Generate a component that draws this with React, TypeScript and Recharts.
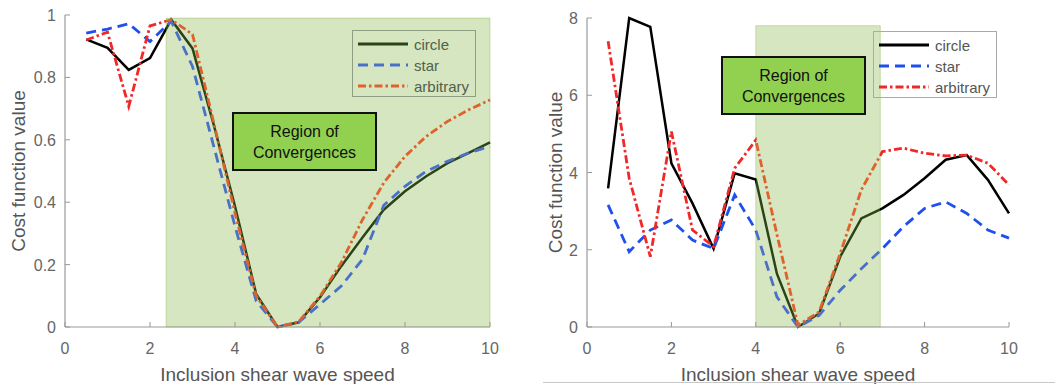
import { LineChart, Line, XAxis, YAxis, ReferenceArea, Label } from 'recharts';

// inclusion shear wave speeds sampled in both panels
const speeds = [0.5, 1, 1.5, 2, 2.5, 3, 3.5, 4, 4.5, 5, 5.5, 6, 6.5, 7, 7.5, 8, 8.5, 9, 9.5, 10];

// left panel
const leftCircle = [0.922, 0.895, 0.824, 0.862, 0.985, 0.893, 0.648, 0.387, 0.105, 0.0, 0.015, 0.095, 0.195, 0.287, 0.376, 0.435, 0.483, 0.525, 0.558, 0.592];
const leftStar = [0.942, 0.955, 0.972, 0.915, 0.98, 0.835, 0.579, 0.323, 0.083, 0.0, 0.015, 0.073, 0.131, 0.217, 0.39, 0.451, 0.499, 0.531, 0.558, 0.579];
const leftArbitrary = [0.92, 0.945, 0.707, 0.965, 0.985, 0.938, 0.655, 0.366, 0.099, 0.0, 0.017, 0.099, 0.206, 0.344, 0.462, 0.547, 0.611, 0.659, 0.696, 0.728];

// right panel
const rightCircle = [3.59, 8.0, 7.77, 4.24, 3.2, 2.03, 3.98, 3.82, 1.38, 0.0, 0.35, 1.82, 2.81, 3.07, 3.42, 3.85, 4.33, 4.45, 3.81, 2.94];
const rightStar = [3.16, 1.95, 2.51, 2.77, 2.25, 2.03, 3.42, 2.51, 0.78, 0.0, 0.3, 0.95, 1.51, 2.03, 2.6, 3.07, 3.24, 2.94, 2.51, 2.3];
const rightArbitrary = [7.4, 3.85, 1.82, 5.06, 2.51, 2.08, 4.11, 4.84, 2.4, 0.05, 0.39, 1.9, 3.55, 4.54, 4.63, 4.5, 4.43, 4.45, 4.24, 3.68];

const xTicks = [0, 2, 4, 6, 8, 10];
const leftYTicks = [0, 0.2, 0.4, 0.6, 0.8, 1];
const rightYTicks = [0, 2, 4, 6, 8];
const leftRegion = [2.38, 10];
const rightRegion = [4, 6.95];
const leftRegionTop = 0.99;
const rightRegionTop = 7.8;

const seriesNames = ['circle', 'star', 'arbitrary'];
const regionText = ['Region of', 'Convergences'];
const xLabel = 'Inclusion shear wave speed';
const yLabel = 'Cost function value';

const FONT = 'Arial, "Liberation Sans", Helvetica, sans-serif';
const DASH_STAR = '10 6';
const DASH_ARB = '8 3 2.5 3';
// plain colours, and the same colours seen through the green band
const baseColors = ['#000000', '#1e50f0', '#f02828'];
const tintColors = ['#2a4418', '#4a70c8', '#de622c'];
const dashes = [undefined, DASH_STAR, DASH_ARB];

const leftData = speeds.map((x, i) => ({ x, circle: leftCircle[i], star: leftStar[i], arbitrary: leftArbitrary[i] }));
const rightData = speeds.map((x, i) => ({ x, circle: rightCircle[i], star: rightStar[i], arbitrary: rightArbitrary[i] }));

function YTick(props: any) {
    const { x, y, payload } = props;
    const ax = x + 9;
    return (
        <g>
            <line x1={ax} x2={ax + 5} y1={y} y2={y} stroke="#999" />
            <text x={x} y={y} dy={6} textAnchor="end" fill="#666" fontSize={16} fontFamily={FONT}>{payload.value}</text>
        </g>
    );
}

function XTick(props: any) {
    const { x, y, payload } = props;
    return (
        <g>
            <line x1={x} x2={x} y1={y} y2={y - 5} stroke="#999" />
            <text x={x} y={y + 27} textAnchor="middle" fill="#666" fontSize={16} fontFamily={FONT}>{payload.value}</text>
        </g>
    );
}

function Legend({ left, top, colors, border, textColor }: any) {
    return (
        <div style={{ position: 'absolute', left, top, width: 122, height: 65, border: `1px solid ${border}`, fontFamily: FONT, fontSize: 15, color: textColor }}>
            {seriesNames.map((name, i) => (
                <div key={name} style={{ position: 'absolute', left: 5, top: 3 + i * 21, height: 20, display: 'flex', alignItems: 'center' }}>
                    <svg width={50} height={6} style={{ marginRight: 6 }}>
                        <line x1={0} x2={50} y1={3} y2={3} stroke={colors[i]} strokeWidth={2.8} strokeDasharray={dashes[i]} />
                    </svg>
                    <span>{name}</span>
                </div>
            ))}
        </div>
    );
}

function RegionBox({ left, top }: any) {
    return (
        <div style={{ position: 'absolute', left, top, width: 141, height: 55, background: '#92d050', border: '2px solid #111', display: 'flex', flexDirection: 'column', justifyContent: 'center', alignItems: 'center', fontFamily: FONT, fontSize: 16, lineHeight: '21px', color: '#111' }}>
            {regionText.map((t) => <div key={t}>{t}</div>)}
        </div>
    );
}

function Panel({ id, data, width, margin, yWidth, yDomain, yTicks, region, regionTop, yLabelX }: any) {
    const plotCenterX = margin.left + yWidth + (width - margin.left - yWidth - margin.right) / 2;
    const plotCenterY = margin.top + (384 - margin.top - 57) / 2;
    const span = speeds[speeds.length - 1] - speeds[0];
    const f1 = Math.max(0, Math.min(1, (region[0] - speeds[0]) / span));
    const f2 = Math.max(0, Math.min(1, (region[1] - speeds[0]) / span));
    return (
        <LineChart width={width} height={384} data={data} margin={margin}>
            <defs>
                {seriesNames.map((k, i) => (
                    <linearGradient key={k} id={`${id}-${k}`} x1="0" y1="0" x2="1" y2="0">
                        <stop offset={f1} stopColor={baseColors[i]} />
                        <stop offset={f1} stopColor={tintColors[i]} />
                        <stop offset={f2} stopColor={tintColors[i]} />
                        <stop offset={f2} stopColor={baseColors[i]} />
                    </linearGradient>
                ))}
            </defs>
            <ReferenceArea x1={region[0]} x2={region[1]} y1={0} y2={regionTop} fill="#77AC30" fillOpacity={0.3}
                stroke="#77AC30" strokeOpacity={0.35} isAnimationActive={false} />
            <XAxis dataKey="x" type="number" domain={[0, 10]} ticks={xTicks} height={57} tickSize={0} tickMargin={0} tickLine={false}
                tick={<XTick />} axisLine={{ stroke: '#999', strokeWidth: 1.2 }}>
                <Label content={() => (
                    <text x={plotCenterX} y={381} textAnchor="middle" fill="#555" fontSize={19} fontFamily={FONT}>{xLabel}</text>
                )} />
            </XAxis>
            <YAxis type="number" domain={yDomain} ticks={yTicks} width={yWidth} tickSize={0} tickMargin={9} tickLine={false}
                tick={<YTick />} axisLine={{ stroke: '#999', strokeWidth: 1.2 }}>
                <Label content={() => (
                    <text x={yLabelX} y={plotCenterY} transform={`rotate(-90 ${yLabelX} ${plotCenterY})`} textAnchor="middle" fill="#555" fontSize={19} fontFamily={FONT}>{yLabel}</text>
                )} />
            </YAxis>
            <Line dataKey="circle" type="linear" stroke={`url(#${id}-circle)`} strokeWidth={2.5} dot={false} isAnimationActive={false} />
            <Line dataKey="star" type="linear" stroke={`url(#${id}-star)`} strokeWidth={2.8} strokeDasharray={DASH_STAR} dot={false} isAnimationActive={false} />
            <Line dataKey="arbitrary" type="linear" stroke={`url(#${id}-arbitrary)`} strokeWidth={2.8} strokeDasharray={DASH_ARB} dot={false} isAnimationActive={false} />
        </LineChart>
    );
}

export default function App() {
    return (
        <div style={{ position: 'absolute', left: 0, top: 0, width: 1055, height: 384, background: '#fff', overflow: 'hidden' }}>
            <div style={{ position: 'absolute', left: 0, top: 0 }}>
                <Panel id="left" data={leftData} width={520} margin={{ top: 15, right: 30, left: 0, bottom: 0 }} yWidth={65}
                    yDomain={[0, 1]} yTicks={leftYTicks} region={leftRegion} regionTop={leftRegionTop} yLabelX={25} />
                <Legend left={352} top={30} colors={tintColors} border="#8e9e80" textColor="#52604a" />
                <RegionBox left={232} top={112} />
            </div>
            <div style={{ position: 'absolute', left: 530, top: 0 }}>
                <Panel id="right" data={rightData} width={525} margin={{ top: 18, right: 46, left: 0, bottom: 0 }} yWidth={57}
                    yDomain={[0, 8]} yTicks={rightYTicks} region={rightRegion} regionTop={rightRegionTop} yLabelX={32} />
                <Legend left={343} top={31} colors={baseColors} border="#aaa" textColor="#555" />
                <RegionBox left={191} top={56} />
            </div>
            <div style={{ position: 'absolute', left: 543, top: 382, width: 512, height: 1, background: '#c8c8c8' }} />
        </div>
    );
}
